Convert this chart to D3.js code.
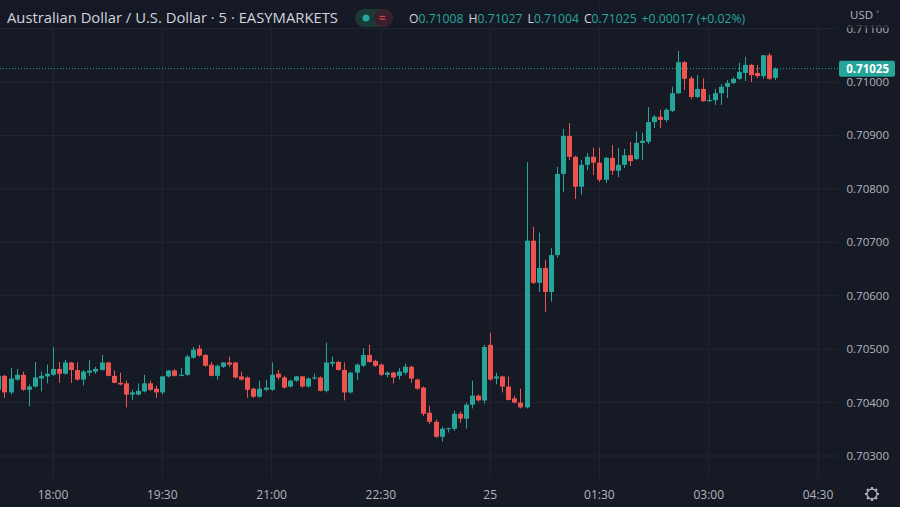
<!DOCTYPE html>
<html><head><meta charset="utf-8">
<script src="https://cdn.jsdelivr.net/npm/d3@7"></script>
<style>body{margin:0;background:#161a25;}svg{display:block;font-family:"Open Sans","Noto Sans",sans-serif;}</style>
</head><body><svg id="c" width="900" height="507"></svg>
<script>
const openP=[70424,70450,70419,70443,70452,70424,70430,70445,70449,70452,70463,70454,70475,70461,70443,70456,70458,70461,70475,70450,70437,70436,70415,70415,70421,70436,70426,70419,70449,70460,70450,70452,70484,70501,70489,70471,70450,70467,70475,70475,70449,70447,70426,70411,70424,70424,70454,70447,70430,70441,70449,70430,70445,70447,70422,70473,70476,70461,70419,70456,70469,70489,70478,70471,70452,70456,70450,70456,70467,70443,70428,70381,70364,70336,70351,70351,70379,70370,70396,70413,70404,70508,70445,70449,70430,70408,70400,70391,70703,70624,70652,70607,70676,70828,70899,70860,70804,70845,70860,70849,70817,70858,70834,70845,70863,70856,70886,70888,70925,70935,70929,70946,70979,71037,71007,70972,70987,70964,70966,70979,70991,70998,71006,71017,71032,71017,71011,71050,71008];
const highP=[70458,70452,70465,70463,70458,70434,70476,70458,70471,70504,70476,70480,70476,70475,70461,70480,70467,70489,70476,70460,70456,70441,70424,70436,70452,70441,70432,70450,70461,70463,70465,70489,70504,70508,70491,70476,70471,70476,70486,70476,70458,70449,70428,70441,70443,70475,70461,70450,70443,70450,70450,70447,70454,70449,70512,70486,70478,70475,70458,70473,70502,70508,70480,70473,70458,70458,70465,70473,70469,70445,70430,70394,70368,70355,70353,70385,70383,70400,70441,70415,70508,70531,70456,70450,70449,70413,70426,70850,70729,70718,70667,70689,70841,70912,70923,70862,70854,70867,70877,70877,70860,70882,70877,70875,70888,70908,70905,70953,70938,70948,70951,70991,71058,71039,71011,71013,71007,70976,70987,70996,71004,71009,71036,71047,71034,71032,71050,71054,71027];
const lowP=[70419,70409,70415,70441,70422,70393,70428,70421,70436,70450,70437,70452,70437,70441,70432,70450,70454,70460,70449,70436,70432,70391,70405,70413,70419,70422,70409,70415,70447,70449,70449,70450,70482,70486,70467,70449,70443,70465,70467,70445,70441,70409,70409,70409,70421,70422,70443,70426,70428,70439,70428,70428,70443,70421,70419,70467,70460,70404,70417,70443,70467,70475,70467,70450,70447,70436,70443,70452,70437,70424,70375,70360,70334,70327,70344,70347,70362,70351,70389,70402,70398,70441,70434,70419,70404,70398,70389,70389,70622,70607,70570,70589,70671,70794,70854,70781,70789,70835,70826,70813,70811,70826,70822,70839,70843,70854,70854,70884,70914,70914,70925,70944,70977,70985,70968,70970,70963,70963,70957,70957,70970,70996,71004,71002,71000,71007,71006,71004,71004];
const closeP=[70450,70419,70445,70452,70424,70430,70447,70450,70454,70463,70454,70475,70461,70443,70458,70460,70463,70475,70450,70437,70434,70415,70419,70422,70436,70424,70419,70449,70460,70450,70452,70486,70499,70488,70469,70450,70469,70475,70471,70447,70443,70424,70411,70426,70428,70452,70447,70428,70441,70449,70430,70445,70447,70422,70475,70476,70461,70419,70456,70471,70489,70476,70469,70452,70456,70447,70458,70467,70445,70426,70379,70364,70336,70351,70352,70379,70370,70396,70413,70404,70504,70443,70449,70430,70405,70400,70391,70703,70624,70652,70607,70676,70828,70899,70860,70804,70845,70860,70849,70817,70858,70834,70845,70863,70852,70886,70890,70925,70935,70929,70948,70979,71037,71006,70972,70987,70964,70966,70979,70991,70998,71006,71019,71032,71013,71011,71050,71006,71025];
const priceTicks=[0.703,0.704,0.705,0.706,0.707,0.708,0.709,0.710,0.711];
const timeTickLabels=["18:00","19:30","21:00","22:30","25","01:30","03:00","04:30"];
const timeTickHours=[18,19.5,21,22.5,24,25.5,27,28.5];
const firstCandleHour=17.25, stepHours=5/60;
const lastInfo={o:"0.71008",h:"0.71027",l:"0.71004",c:"0.71025",chg:"+0.00017 (+0.02%)"};

const svg=d3.select("#c");
const UP="#26a69a",DN="#ef5350",GRID="#232632",TXT="#b2b5be";
const x=d3.scaleLinear().domain([18,28.5]).range([53,818]);
const y=d3.scaleLinear().domain([0.703,0.710]).range([456,82]);
const plotR=838;
const g=svg.append("g");
g.selectAll(".hg").data(priceTicks).join("line").attr("x1",0).attr("x2",plotR).attr("y1",d=>y(d)).attr("y2",d=>y(d)).attr("stroke",GRID);
g.selectAll(".vg").data(timeTickHours).join("line").attr("x1",d=>x(d)).attr("x2",d=>x(d)).attr("y1",0).attr("y2",478).attr("stroke",GRID);
const data=openP.map((o,i)=>({t:firstCandleHour+i*stepHours,o:o/1e5,h:highP[i]/1e5,l:lowP[i]/1e5,c:closeP[i]/1e5}));
const last=data[data.length-1];
g.append("line").attr("x1",0).attr("x2",plotR).attr("y1",y(last.c)).attr("y2",y(last.c)).attr("stroke",UP).attr("stroke-dasharray","1,2");
const cg=g.selectAll(".cd").data(data).join("g");
cg.append("line").attr("x1",d=>Math.round(x(d.t))+0.5).attr("x2",d=>Math.round(x(d.t))+0.5).attr("y1",d=>y(d.h)).attr("y2",d=>y(d.l)).attr("stroke",d=>d.c>=d.o?UP:DN);
cg.append("rect").attr("x",d=>Math.round(x(d.t))-2).attr("width",5).attr("y",d=>y(Math.max(d.o,d.c))).attr("height",d=>Math.max(1,Math.abs(y(d.o)-y(d.c)))).attr("fill",d=>d.c>=d.o?UP:DN);
svg.selectAll(".pl").data(priceTicks).join("text").attr("x",889).attr("y",d=>y(d)+4).attr("text-anchor","end").attr("fill",TXT).attr("font-size",11.5).text(d=>d.toFixed(5));
svg.append("rect").attr("x",0).attr("y",0).attr("width",900).attr("height",28).attr("fill","#161a25").attr("opacity",0.7);
svg.append("rect").attr("x",839).attr("y",y(last.c)-8).attr("width",56).attr("height",16).attr("rx",2).attr("fill",UP);
svg.append("text").attr("x",889).attr("y",y(last.c)+4).attr("text-anchor","end").attr("fill","#fff").attr("font-size",11.5).attr("font-weight","bold").text(last.c.toFixed(5));
svg.append("text").attr("x",850).attr("y",19).attr("fill",TXT).attr("font-size",11.5).text("USD ˅");
svg.selectAll(".tl").data(timeTickHours).join("text").attr("x",d=>x(d)).attr("y",499).attr("text-anchor","middle").attr("fill",TXT).attr("font-size",12).text((d,i)=>timeTickLabels[i]);
const gear=svg.append("g").attr("transform","translate(872,494)");
gear.append("circle").attr("r",5).attr("fill","none").attr("stroke",TXT).attr("stroke-width",1.3);
gear.selectAll("line").data(d3.range(8)).join("line").attr("x1",0).attr("y1",-5).attr("x2",0).attr("y2",-7).attr("stroke",TXT).attr("stroke-width",2).attr("transform",d=>`rotate(${d*45})`);
svg.append("text").attr("x",7).attr("y",23).attr("fill","#d1d4dc").attr("font-size",14.8).text("Australian Dollar / U.S. Dollar · 5 · EASYMARKETS");
svg.append("rect").attr("x",355).attr("y",9).attr("width",38).attr("height",18).attr("rx",9).attr("fill","#1b3a36");
svg.append("rect").attr("x",374).attr("y",9).attr("width",19).attr("height",18).attr("rx",9).attr("fill","#3a1f2c");
svg.append("circle").attr("cx",366).attr("cy",18).attr("r",3.5).attr("fill",UP);
svg.append("text").attr("x",379).attr("y",22).attr("fill",DN).attr("font-size",12).text("≈");
const hdr=svg.append("text").attr("x",409).attr("y",23).attr("font-size",12.2);
[["O",lastInfo.o],["H",lastInfo.h],["L",lastInfo.l],["C",lastInfo.c]].forEach(([k,v],i)=>{
  hdr.append("tspan").attr("fill","#d1d4dc").attr("dx",i?5:0).text(k);
  hdr.append("tspan").attr("fill",UP).text(v);
});
hdr.append("tspan").attr("fill",UP).attr("dx",5).text(lastInfo.chg);
</script></body></html>
